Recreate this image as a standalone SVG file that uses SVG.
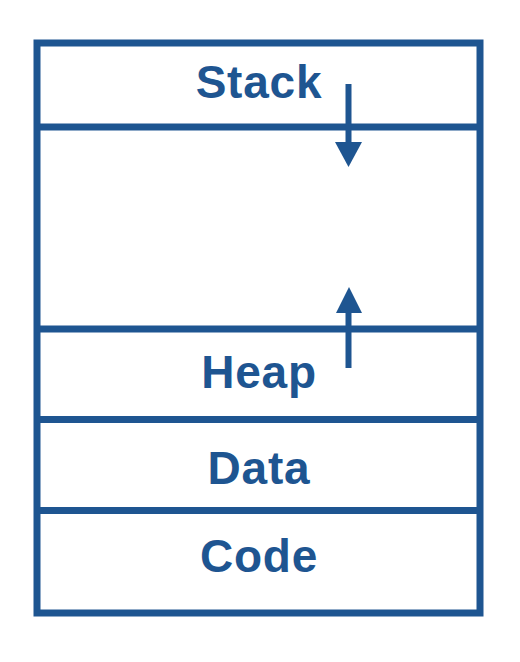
<svg xmlns="http://www.w3.org/2000/svg" width="520" height="662" viewBox="0 0 520 662">
  <defs>
    <style>
      .frame { fill: none; stroke: #1e5591; stroke-width: 7; }
      .divider { stroke: #1e5591; stroke-width: 7; }
      .label { font-family: "Liberation Sans", Arial, sans-serif; font-weight: bold; font-size: 46px; letter-spacing: 0.8px; fill: #1e5591; text-anchor: middle; }
      .shaft { stroke: #1e5591; stroke-width: 6; }
      .head { fill: #1e5591; }
    </style>
  </defs>
  <rect width="520" height="662" fill="#ffffff"/>

  <!-- memory layout: outer frame and segment boundaries -->
  <rect class="frame" x="37" y="43" width="443" height="570"/>

  <g id="stack">
    <line class="divider" x1="37" y1="127" x2="480" y2="127"/>
    <text class="label" x="259" y="98">Stack</text>
  </g>
  <g id="free">
    <line class="divider" x1="37" y1="329" x2="480" y2="329"/>
  </g>
  <g id="heap">
    <line class="divider" x1="37" y1="419.5" x2="480" y2="419.5"/>
    <text class="label" x="259" y="388">Heap</text>
  </g>
  <g id="data">
    <line class="divider" x1="37" y1="510.5" x2="480" y2="510.5"/>
    <text class="label" x="259" y="484">Data</text>
  </g>
  <g id="code">
    <text class="label" x="259" y="572">Code</text>
  </g>

  <!-- growth directions -->
  <g id="connectors">
    <line class="shaft" x1="348.5" y1="84" x2="348.5" y2="145"/>
    <polygon class="head" points="335,142 362,142 348.5,167"/>
    <line class="shaft" x1="348.5" y1="368" x2="348.5" y2="310"/>
    <polygon class="head" points="336,313 362,313 349,287"/>
  </g>
</svg>
